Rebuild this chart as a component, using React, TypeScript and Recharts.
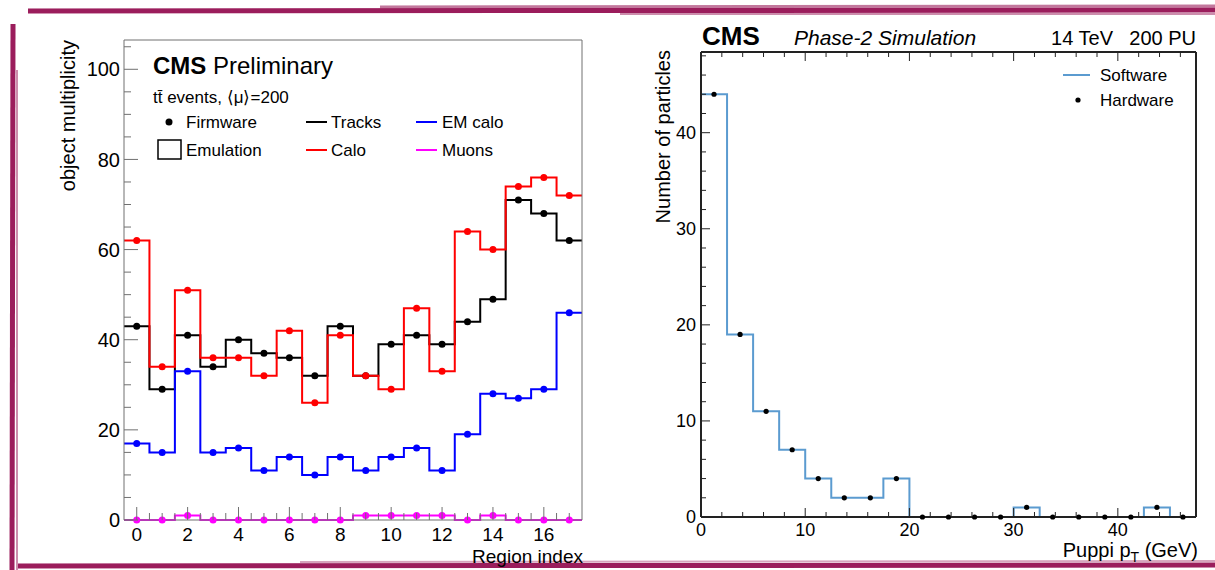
import React from 'react'
import { LineChart, Line, XAxis, YAxis } from 'recharts'

const FONT = '"Liberation Sans", Arial, Helvetica, sans-serif'
const MAROON = '#9b1d5c'

// left panel: object multiplicity per region
const regionIndex = [0, 1, 2, 3, 4, 5, 6, 7, 8, 9, 10, 11, 12, 13, 14, 15, 16, 17]
const regionEdges = [-0.5, 17.5]
const tracks = [43, 29, 41, 34, 40, 37, 36, 32, 43, 32, 39, 41, 39, 44, 49, 71, 68, 62]
const calo = [62, 34, 51, 36, 36, 32, 42, 26, 41, 32, 29, 47, 33, 64, 60, 74, 76, 72]
const emCalo = [17, 15, 33, 15, 16, 11, 14, 10, 14, 11, 14, 16, 11, 19, 28, 27, 29, 46]
const muons = [0, 0, 1, 0, 0, 0, 0, 0, 0, 1, 1, 1, 1, 0, 1, 0, 0, 0]

const regionTicks = [
  0, 0.5, 1, 1.5, 2, 2.5, 3, 3.5, 4, 4.5, 5, 5.5, 6, 6.5, 7, 7.5, 8, 8.5, 9,
  9.5, 10, 10.5, 11, 11.5, 12, 12.5, 13, 13.5, 14, 14.5, 15, 15.5, 16, 16.5, 17,
]
const regionLabels = [0, 2, 4, 6, 8, 10, 12, 14, 16]
const multTicks = [0, 5, 10, 15, 20, 25, 30, 35, 40, 45, 50, 55, 60, 65, 70, 75, 80, 85, 90, 95, 100, 105]
const multLabels = [0, 20, 40, 60, 80, 100]

// right panel: Puppi pT spectrum
const ptBins = [
  1.25, 3.75, 6.25, 8.75, 11.25, 13.75, 16.25, 18.75, 21.25, 23.75,
  26.25, 28.75, 31.25, 33.75, 36.25, 38.75, 41.25, 43.75, 46.25,
]
const ptEdges = [0, 47.5]
const software = [44, 19, 11, 7, 4, 2, 2, 4, 0, 0, 0, 0, 1, 0, 0, 0, 0, 1, 0]
const hardware = [44, 19, 11, 7, 4, 2, 2, 4, 0, 0, 0, 0, 1, 0, 0, 0, 0, 1, 0]
const ptTicks = [0, 2, 4, 6, 8, 10, 12, 14, 16, 18, 20, 22, 24, 26, 28, 30, 32, 34, 36, 38, 40, 42, 44, 46]
const ptLabels = [0, 10, 20, 30, 40]
const countTicks = [0, 2, 4, 6, 8, 10, 12, 14, 16, 18, 20, 22, 24, 26, 28, 30, 32, 34, 36, 38, 40, 42, 44, 46, 48]
const countLabels = [0, 10, 20, 30, 40]

const last = regionIndex.length - 1
const regionRows = [
  { x: regionEdges[0], tracks: tracks[0], calo: calo[0], em: emCalo[0], muons: muons[0], edge: true },
  ...regionIndex.map((x, i) => ({
    x,
    tracks: tracks[i],
    calo: calo[i],
    em: emCalo[i],
    muons: muons[i],
    edge: false,
  })),
  { x: regionEdges[1], tracks: tracks[last], calo: calo[last], em: emCalo[last], muons: muons[last], edge: true },
]

const ptLast = ptBins.length - 1
const ptRows = [
  { pt: ptEdges[0], software: software[0], hardware: hardware[0], edge: true },
  ...ptBins.map((pt, i) => ({ pt, software: software[i], hardware: hardware[i], edge: false })),
  { pt: ptEdges[1], software: software[ptLast], hardware: hardware[ptLast], edge: true },
]

type Side = 'bottom' | 'left' | 'top' | 'right'

// ROOT-style ticks: drawn inside the frame, labels outside
function rootTick(
  side: Side,
  labels: number[],
  majorLen: number,
  minorLen: number,
  color: string,
  fontSize: number,
  showText: boolean,
  gap: number,
) {
  return (props: any) => {
    const { x, y, payload } = props
    const v = payload.value
    const isMajor = labels.includes(v)
    const len = isMajor ? majorLen : minorLen
    let line
    let text = null
    const textStyle = { fontFamily: FONT, fontSize, fill: '#000' }
    if (side === 'bottom') {
      line = <line x1={x} y1={y} x2={x} y2={y - len} stroke={color} strokeWidth={1} />
      if (showText && isMajor)
        text = <text x={x} y={y + gap} textAnchor="middle" style={textStyle}>{v}</text>
    } else if (side === 'top') {
      line = <line x1={x} y1={y} x2={x} y2={y + len} stroke={color} strokeWidth={1} />
    } else if (side === 'left') {
      line = <line x1={x} y1={y} x2={x + len} y2={y} stroke={color} strokeWidth={1} />
      if (showText && isMajor)
        text = (
          <text x={x - gap} y={y} dy="0.36em" textAnchor="end" style={textStyle}>
            {v}
          </text>
        )
    } else {
      line = <line x1={x} y1={y} x2={x - len} y2={y} stroke={color} strokeWidth={1} />
    }
    return (
      <g>
        {line}
        {text}
      </g>
    )
  }
}

function histDot(color: string, r: number) {
  return (p: any) =>
    p.payload.edge ? (
      <g key={`d${p.index}`} />
    ) : (
      <circle key={`d${p.index}`} cx={p.cx} cy={p.cy} r={r} fill={color} stroke="none" />
    )
}

function RegionChart() {
  const axisColor = '#707070'
  return (
    <LineChart
      width={600}
      height={570}
      data={regionRows}
      margin={{ top: 39, right: 17, bottom: 0, left: 0 }}
    >
      <XAxis
        dataKey="x"
        type="number"
        domain={[-0.5, 17.5]}
        ticks={regionTicks}
        interval={0}
        height={50}
        tickSize={0}
        tickMargin={0}
        stroke={axisColor}
        tick={rootTick('bottom', regionLabels, 13, 7, axisColor, 19, true, 21)}
      />
      <XAxis
        xAxisId="top"
        orientation="top"
        dataKey="x"
        type="number"
        domain={[-0.5, 17.5]}
        ticks={[]}
        height={1}
        tickSize={0}
        tickLine={false}
        tick={false}
        stroke={axisColor}
      />
      <YAxis
        type="number"
        domain={[0, 106.5]}
        ticks={multTicks}
        interval={0}
        width={124}
        tickSize={0}
        tickMargin={0}
        stroke={axisColor}
        tick={rootTick('left', multLabels, 14, 7, axisColor, 20, true, 4)}
      />
      <YAxis
        yAxisId="right"
        orientation="right"
        type="number"
        domain={[0, 106.5]}
        ticks={[]}
        width={1}
        tickSize={0}
        tickLine={false}
        tick={false}
        stroke={axisColor}
      />
      <Line type="step" dataKey="tracks" stroke="#000000" strokeWidth={2} dot={histDot('#000000', 3.5)} activeDot={false} isAnimationActive={false} />
      <Line type="step" dataKey="calo" stroke="#ff0000" strokeWidth={2} dot={histDot('#ff0000', 3.5)} activeDot={false} isAnimationActive={false} />
      <Line type="step" dataKey="em" stroke="#0000ff" strokeWidth={2} dot={histDot('#0000ff', 3.5)} activeDot={false} isAnimationActive={false} />
      <Line type="step" dataKey="muons" stroke="#ff00ff" strokeWidth={2} dot={histDot('#ff00ff', 3.5)} activeDot={false} isAnimationActive={false} />
    </LineChart>
  )
}

function PtChart() {
  const axisColor = '#222222'
  return (
    <LineChart
      width={615}
      height={570}
      data={ptRows}
      margin={{ top: 51, right: 18, bottom: 0, left: 0 }}
    >
      <XAxis
        dataKey="pt"
        type="number"
        domain={[0, 47.5]}
        ticks={ptTicks}
        interval={0}
        height={53}
        tickSize={0}
        tickMargin={0}
        stroke={axisColor}
        strokeWidth={2}
        tick={rootTick('bottom', ptLabels, 9, 5, axisColor, 18, true, 19)}
      />
      <XAxis
        xAxisId="top"
        orientation="top"
        dataKey="pt"
        type="number"
        domain={[0, 47.5]}
        ticks={ptTicks}
        interval={0}
        height={1}
        tickSize={0}
        tickMargin={0}
        stroke={axisColor}
        strokeWidth={2}
        tick={rootTick('top', ptLabels, 9, 5, axisColor, 18, false, 0)}
      />
      <YAxis
        type="number"
        domain={[0, 48.4]}
        ticks={countTicks}
        interval={0}
        width={101}
        tickSize={0}
        tickMargin={0}
        stroke={axisColor}
        strokeWidth={2}
        tick={rootTick('left', countLabels, 9, 5, axisColor, 18, true, 5)}
      />
      <YAxis
        yAxisId="right"
        orientation="right"
        type="number"
        domain={[0, 48.4]}
        ticks={countTicks}
        interval={0}
        width={1}
        tickSize={0}
        tickMargin={0}
        stroke={axisColor}
        strokeWidth={2}
        tick={rootTick('right', countLabels, 9, 5, axisColor, 18, false, 0)}
      />
      <Line type="step" dataKey="software" stroke="#5b9bd0" strokeWidth={2} dot={false} activeDot={false} isAnimationActive={false} />
      <Line type="step" dataKey="hardware" stroke="none" dot={histDot('#000000', 2.6)} activeDot={false} isAnimationActive={false} />
    </LineChart>
  )
}

function Overlay() {
  const t = { fontFamily: FONT, fill: '#000' }
  return (
    <svg width={1215} height={570} style={{ position: 'absolute', left: 0, top: 0, pointerEvents: 'none' }}>
      {/* slide border strokes */}
      <line x1={28} y1={11} x2={1215} y2={10} stroke={MAROON} strokeWidth={5} />
      <line x1={380} y1={7} x2={1215} y2={6} stroke={MAROON} strokeWidth={3} opacity={0.6} />
      <line x1={620} y1={14} x2={1215} y2={14} stroke={MAROON} strokeWidth={2} opacity={0.5} />
      <line x1={13} y1={24} x2={12} y2={570} stroke={MAROON} strokeWidth={5} />
      <line x1={17} y1={70} x2={17} y2={570} stroke={MAROON} strokeWidth={2} opacity={0.5} />
      <line x1={18} y1={566} x2={1215} y2={565} stroke={MAROON} strokeWidth={5} />
      <line x1={300} y1={562} x2={1215} y2={561} stroke={MAROON} strokeWidth={2} opacity={0.4} />

      {/* left panel texts */}
      <text x={153} y={74} style={{ ...t, fontSize: 24 }}>
        <tspan fontWeight="bold">CMS</tspan>
        <tspan> Preliminary</tspan>
      </text>
      <text x={153} y={103} style={{ ...t, fontSize: 17 }}>
        {'tt\u0304 events, \u27E8\u03BC\u27E9=200'}
      </text>
      <circle cx={169} cy={122} r={3.5} fill="#000" />
      <text x={186} y={128} style={{ ...t, fontSize: 17 }}>Firmware</text>
      <line x1={306} y1={122} x2={327} y2={122} stroke="#000" strokeWidth={2} />
      <text x={331} y={128} style={{ ...t, fontSize: 17 }}>Tracks</text>
      <line x1={416} y1={122} x2={437} y2={122} stroke="#0000ff" strokeWidth={2} />
      <text x={442} y={128} style={{ ...t, fontSize: 17 }}>EM calo</text>
      <rect x={158} y={140} width={23} height={19} fill="none" stroke="#000" strokeWidth={1.5} />
      <text x={186} y={156} style={{ ...t, fontSize: 17 }}>Emulation</text>
      <line x1={306} y1={150} x2={327} y2={150} stroke="#ff0000" strokeWidth={2} />
      <text x={331} y={156} style={{ ...t, fontSize: 17 }}>Calo</text>
      <line x1={416} y1={150} x2={437} y2={150} stroke="#ff00ff" strokeWidth={2} />
      <text x={442} y={156} style={{ ...t, fontSize: 17 }}>Muons</text>
      <text transform="translate(75,40) rotate(-90)" textAnchor="end" style={{ ...t, fontSize: 20 }}>
        object multiplicity
      </text>
      <text x={583} y={563} textAnchor="end" style={{ ...t, fontSize: 19 }}>Region index</text>

      {/* right panel texts */}
      <text x={702} y={45} style={{ ...t, fontSize: 26, fontWeight: 'bold' }}>CMS</text>
      <text x={794} y={45} style={{ ...t, fontSize: 21, fontStyle: 'italic' }}>Phase-2 Simulation</text>
      <text x={1113} y={45} textAnchor="end" style={{ ...t, fontSize: 20 }}>14 TeV</text>
      <text x={1196} y={45} textAnchor="end" style={{ ...t, fontSize: 20 }}>200 PU</text>
      <line x1={1063} y1={75} x2={1090} y2={75} stroke="#5b9bd0" strokeWidth={2} />
      <text x={1100} y={81} style={{ ...t, fontSize: 17 }}>Software</text>
      <circle cx={1078} cy={100} r={2.6} fill="#000" />
      <text x={1100} y={106} style={{ ...t, fontSize: 17 }}>Hardware</text>
      <text transform="translate(670,50) rotate(-90)" textAnchor="end" style={{ ...t, fontSize: 20 }}>
        Number of particles
      </text>
      <text x={1198} y={557} textAnchor="end" style={{ ...t, fontSize: 20 }}>
        <tspan>Puppi p</tspan>
        <tspan dy={5} fontSize={14}>T</tspan>
        <tspan dy={-5}> (GeV)</tspan>
      </text>
    </svg>
  )
}

export default function App() {
  return (
    <div
      style={{
        position: 'absolute',
        left: 0,
        top: 0,
        width: 1215,
        height: 570,
        overflow: 'hidden',
        background: '#ffffff',
        fontFamily: FONT,
      }}
    >
      <div style={{ position: 'absolute', left: 0, top: 0 }}>
        <RegionChart />
      </div>
      <div style={{ position: 'absolute', left: 600, top: 0 }}>
        <PtChart />
      </div>
      <Overlay />
    </div>
  )
}
